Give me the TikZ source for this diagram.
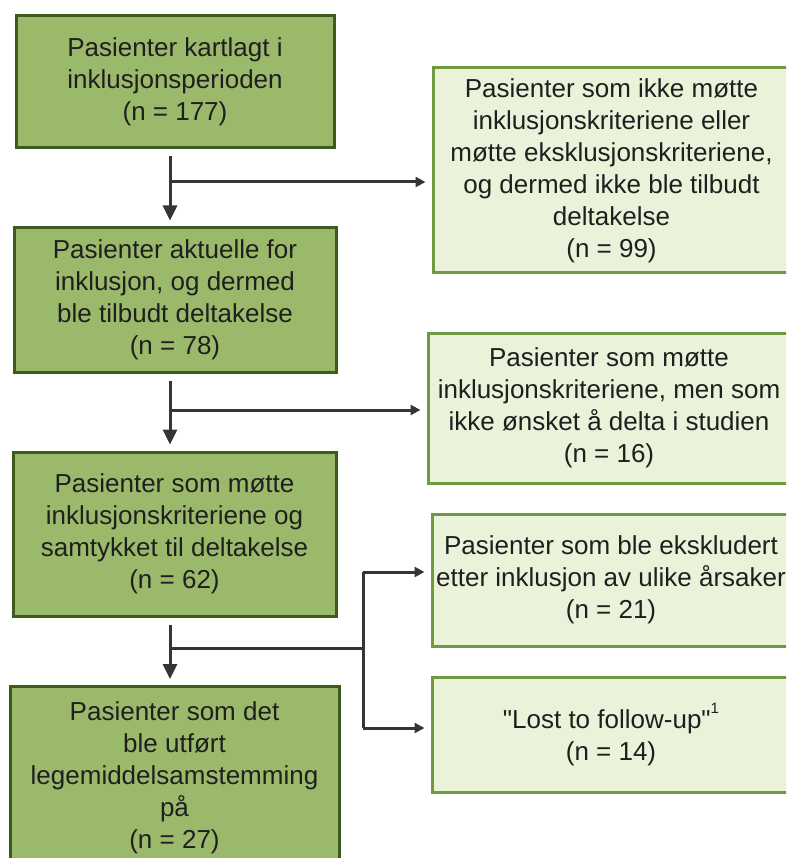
\documentclass[tikz,border=0pt]{standalone}
\usepackage{fontspec}
\newfontfamily\flowfont{Liberation Sans}
\usetikzlibrary{arrows.meta}
\definecolor{darkbox}{HTML}{9BB96A}
\definecolor{darkedge}{HTML}{3E5A1C}
\definecolor{lightbox}{HTML}{EAF3DA}
\definecolor{lightedge}{HTML}{6F9A40}
\definecolor{flowline}{HTML}{353535}
\tikzset{
	mainbox/.style={draw=darkedge, fill=darkbox, line width=3pt, align=center, inner sep=0pt, text=black!88, font=\flowfont\fontsize{26}{32}\selectfont},
	sidebox/.style={draw=lightedge, fill=lightbox, line width=3pt, align=center, inner sep=0pt, text=black!88, font=\flowfont\fontsize{26}{32}\selectfont},
	flow/.style={draw=flowline, line width=3pt},
	downarrow/.style={flow, -{Triangle[length=15pt,width=14pt]}, shorten <=7pt, shorten >=6pt},
	sidearrow/.style={flow, -{Triangle[length=10pt,width=10pt]}, shorten >=6pt}
}

\begin{document}
\begin{tikzpicture}[x=1pt, y=-1pt]
		%%%%% START %%%%%
		
		\useasboundingbox (0, 0) rectangle (786, 858);
		\clip (0, 0) rectangle (786, 858);
		
		% left column
		\node[mainbox, minimum width=318, minimum height=132] (kartlagt) at (175, 82) {Pasienter kartlagt i\\inklusjonsperioden\\(n = 177)};
		\node[mainbox, minimum width=322, minimum height=144] (aktuelle) at (175, 300) {Pasienter aktuelle for\\inklusjon, og dermed\\ble tilbudt deltakelse\\(n = 78)};
		\node[mainbox, minimum width=323, minimum height=164] (samtykket) at (174.5, 534) {Pasienter som møtte\\inklusjonskriteriene og\\samtykket til deltakelse\\(n = 62)};
		\node[mainbox, minimum width=329, minimum height=183] (utfort) at (174.5, 778) {Pasienter som det\\ble utført\\legemiddelsamstemming\\på\\(n = 27)};
		
		% right column
		\node[sidebox, minimum width=357, minimum height=205] (ikkemott) at (611.5, 170.5) {Pasienter som ikke møtte\\inklusjonskriteriene eller\\møtte eksklusjonskriteriene,\\og dermed ikke ble tilbudt\\deltakelse\\(n = 99)};
		\node[sidebox, minimum width=362, minimum height=150] (ikkeonsket) at (609, 408) {Pasienter som møtte\\inklusjonskriteriene, men som\\ikke ønsket å delta i studien\\(n = 16)};
		\node[sidebox, minimum width=358, minimum height=132] (ekskludert) at (611, 580) {Pasienter som ble ekskludert\\etter inklusjon av ulike årsaker\\(n = 21)};
		\node[sidebox, minimum width=358, minimum height=115] (lost) at (611, 734.5) {"Lost to follow-up"\raisebox{0.55em}{\fontsize{15}{15}\selectfont 1}\\(n = 14)};
		
		% connectors
		\coordinate (spine) at (170, 0);
		\coordinate (split1) at (170, 182);
		\coordinate (split2) at (170, 410);
		\coordinate (split3) at (170, 648);
		\coordinate (fork) at (363, 648);
		\coordinate (join3) at (363, 572);
		\coordinate (join4) at (363, 728);
		
		\draw[downarrow] (kartlagt.south -| spine) -- (aktuelle.north -| spine);
		\draw[sidearrow] (split1) -- (ikkemott.west |- split1);
		
		\draw[downarrow] (aktuelle.south -| spine) -- (samtykket.north -| spine);
		\draw[sidearrow] (split2) -- (ikkeonsket.west |- split2);
		
		\draw[downarrow] (samtykket.south -| spine) -- (utfort.north -| spine);
		\draw[flow] (split3) -- (fork);
		\draw[flow] (join3) -- (join4);
		\draw[sidearrow] (join3) -- (ekskludert.west |- join3);
		\draw[sidearrow] (join4) -- (lost.west |- join4);
		
		%%%%% END %%%%%
\end{tikzpicture}
\end{document}
